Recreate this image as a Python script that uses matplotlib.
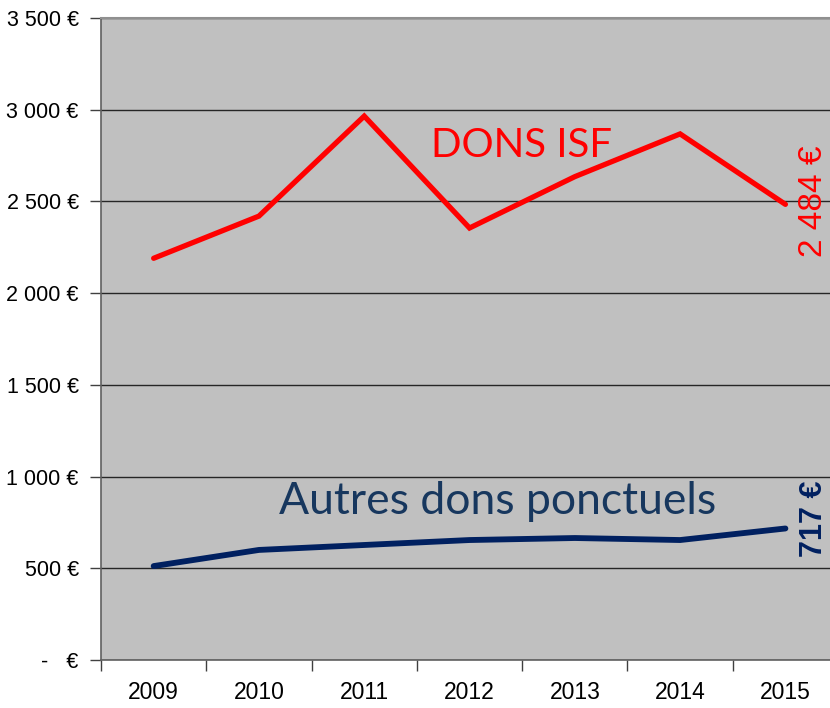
import numpy as np
import matplotlib.pyplot as plt
from matplotlib.ticker import FuncFormatter, FixedLocator

years = ['2009', '2010', '2011', '2012', '2013', '2014', '2015']
dons_isf = [2190, 2420, 2965, 2355, 2635, 2868, 2484]
autres_dons = [512, 600, 627, 654, 665, 654, 717]

def euro(v, pos):
    if v == 0:
        return '-   €'
    return '{:,.0f} €'.format(v).replace(',', ' ')

fig = plt.figure(figsize=(8.3, 7.08), dpi=100)
ax = fig.add_axes([0.1217, 0.0678, 0.888, 0.9068])
ax.set_facecolor('#C0C0C0')

x = np.arange(len(years))
ax.plot(x, dons_isf, color='#FF0000', lw=3.8, solid_capstyle='round', solid_joinstyle='miter', zorder=3)
ax.plot(x, autres_dons, color='#002060', lw=4.2, solid_capstyle='round', solid_joinstyle='miter', zorder=3)

ax.set_xlim(-0.5, 6.5)
ax.set_ylim(0, 3500)
ax.set_yticks(np.arange(0, 3501, 500))
ax.yaxis.set_major_formatter(FuncFormatter(euro))
ax.grid(axis='y', color='#262626', lw=1.0)
ax.set_axisbelow(True)

# category labels centred, tick marks on the boundaries
ax.set_xticks(x)
ax.set_xticklabels(years)
ax.xaxis.set_minor_locator(FixedLocator(np.arange(-0.5, 7.0, 1)))
ax.tick_params(axis='x', which='major', length=0, pad=15)
ax.tick_params(axis='x', which='minor', length=8, color='#404040', width=1)
ax.tick_params(axis='y', length=8, color='#404040', width=1, pad=8)
for lab in ax.get_xticklabels():
    lab.set_family('Liberation Sans')
    lab.set_fontsize(16.5)
for lab in ax.get_yticklabels():
    lab.set_family('Liberation Sans')
    lab.set_fontsize(15.5)

for side in ['left', 'bottom']:
    ax.spines[side].set_color('#606060')
    ax.spines[side].set_linewidth(1.2)
ax.spines['top'].set_color('#909090')
ax.spines['top'].set_linewidth(1.5)
ax.spines['right'].set_visible(False)

ax.text(3.49, 2743, 'DONS ISF', color='#FF0000', fontsize=29, family='Lato',
        ha='center', va='baseline')
ax.text(3.27, 796, 'Autres dons ponctuels', color='#17375E', fontsize=32, family='Lato',
        ha='center', va='baseline')

ax.text(6.27, 2500, '2 484 €', color='#FF0000', fontsize=24, family='Liberation Sans',
        rotation=90, ha='center', va='center')
ax.text(6.27, 769, '717 €', color='#002060', fontsize=22, fontweight='bold',
        family='Liberation Sans', rotation=90, ha='center', va='center')

fig.savefig('out.png', dpi=100)
